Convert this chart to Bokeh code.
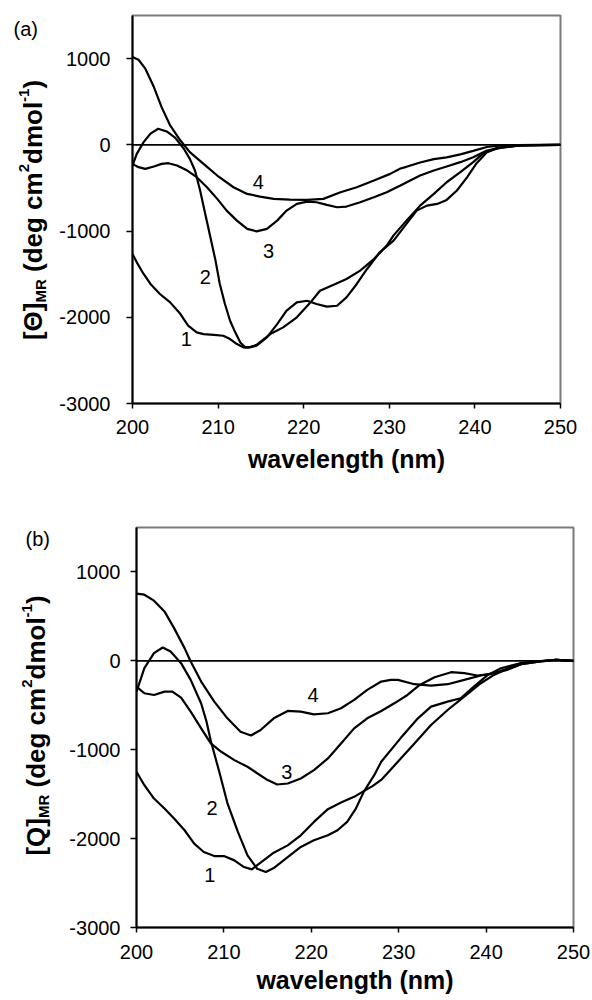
import math
from bokeh.plotting import figure
from bokeh.layouts import column, row
from bokeh.models import Span, Range1d, FixedTicker, ColumnDataSource
from bokeh.core.properties import value
from bokeh.embed import file_html
from bokeh.resources import INLINE

FONT = "Liberation Sans"

# ---------------- data: panel (a) ----------------
a_x1 = [200, 200.5, 201.3, 202.1, 203.2, 204.4, 205.6, 206.5, 207.5, 208.3, 209.5, 210.6, 211.4, 212.2,
        213.0, 213.6, 214.5, 215.7, 216.9, 218.0, 219.2, 220.4, 221.5, 222.7, 223.9, 225.0, 226.2, 227.4,
        228.9, 230.5, 232.0, 233.2, 234.4, 235.6, 236.7, 237.9, 239.1, 240.2, 241.4, 243.0, 245.3, 247.5, 250]
a_y1 = [-1266, -1363, -1498, -1614, -1730, -1827, -1963, -2098, -2175, -2195, -2203, -2214, -2253, -2311,
        -2350, -2352, -2330, -2234, -2079, -1924, -1827, -1808, -1846, -1877, -1866, -1769, -1614, -1440,
        -1246, -1111, -917, -763, -705, -685, -639, -530, -375, -213, -85, -27, -8, -3, 0]

a_x2 = [200, 200.5, 201.3, 202.1, 203.0, 204.0, 205.0, 206.0, 206.7, 207.3, 207.9, 208.5, 209.1, 209.7,
        210.2, 210.8, 211.4, 212.0, 212.6, 213.2, 213.8, 214.5, 216.1, 217.6, 219.2, 220.8, 221.9, 223.5,
        225.0, 226.6, 228.2, 229.7, 230.5, 232.0, 233.6, 235.2, 236.7, 238.3, 239.8, 241.0, 242.6, 245.3,
        247.5, 250]
a_y2 = [-240, -105, 31, 130, 186, 155, 80, -46, -163, -298, -530, -801, -1072, -1343,
        -1614, -1846, -2040, -2175, -2292, -2350, -2342, -2320, -2195, -2117, -2001, -1827, -1692, -1622,
        -1556, -1459, -1324, -1169, -1050, -879, -705, -569, -434, -317, -201, -97, -35, -8,
        -3, 0]

a_x3 = [200, 200.7, 201.5, 202.5, 203.4, 204.2, 205.2, 206.4, 207.5, 208.7, 209.9, 211.0, 212.2, 213.4,
        214.5, 215.7, 216.9, 218.0, 219.2, 220.4, 221.5, 222.7, 223.9, 225.0, 226.6, 228.2, 229.7, 231.3,
        232.5, 233.6, 235.2, 236.7, 238.3, 239.8, 241.4, 243.0, 245.3, 247.5, 250]
a_y3 = [-221, -259, -279, -252, -221, -213, -240, -298, -375, -492, -627, -763, -879, -975,
        -1003, -975, -879, -763, -685, -658, -666, -697, -724, -716, -666, -608, -550, -472,
        -410, -356, -298, -252, -201, -143, -66, -35, -8, -3, 0]

a_x4 = [200, 200.7, 201.5, 202.5, 203.4, 204.4, 205.6, 206.7, 208.3, 209.9, 211.8, 213.4, 214.9, 216.5,
        218.4, 220.4, 222.3, 224.3, 226.2, 228.2, 230.1, 231.3, 232.0, 233.6, 235.2, 236.7, 238.3, 239.8,
        241.4, 243.0, 245.0, 247.5, 250]
a_y4 = [1018, 987, 883, 670, 437, 225, 50, -85, -221, -356, -492, -569, -600, -627,
        -635, -639, -627, -550, -492, -414, -337, -275, -255, -205, -165, -145, -110, -70,
        -25, -8, -3, -1, 0]

# ---------------- data: panel (b) ----------------
b_x1 = [200, 200.9, 202.0, 203.2, 204.3, 205.5, 206.6, 207.7, 208.9, 210.0, 211.2, 212.3, 213.2, 214.2,
        215.7, 217.3, 218.8, 220.3, 221.9, 223.4, 224.9, 226.0, 227.0, 228.0, 229.9, 231.8, 233.7, 235.6,
        237.5, 239.4, 240.9, 242.4, 244.0, 246.0, 248.0, 250]
b_y1 = [-1248, -1399, -1549, -1662, -1775, -1906, -2057, -2151, -2196, -2196, -2245, -2320, -2346, -2271,
        -2158, -2076, -1963, -1812, -1669, -1594, -1530, -1466, -1410, -1340, -1136, -929, -722, -553,
        -402, -252, -158, -90, -38, -10, 10, 0]

b_x2 = [200, 200.9, 202.0, 203.0, 203.9, 205.1, 206.2, 207.4, 208.0, 208.5, 209.5, 210.4, 211.6, 212.7,
        213.8, 214.8, 215.7, 217.3, 218.8, 220.3, 221.9, 223.0, 224.1, 225.1, 226.0, 227.2, 228.0, 230.2,
        232.2, 233.7, 235.6, 237.1, 238.6, 240.2, 241.7, 244.0, 246.0, 248.0, 250]
b_y2 = [-346, -83, 86, 150, 105, -26, -214, -480, -680, -900, -1260, -1600, -1925, -2188,
        -2339, -2376, -2331, -2207, -2094, -2019, -1963, -1906, -1812, -1662, -1474, -1286, -1136, -872,
        -647, -515, -459, -421, -290, -158, -83, -26, -5, 12, 0]

b_x3 = [200, 200.9, 202.0, 203.2, 204.1, 205.1, 206.2, 207.4, 208.5, 209.7, 211.2, 212.7, 214.2, 215.0,
        216.1, 217.3, 218.8, 220.3, 221.9, 223.4, 224.9, 226.4, 228.0, 229.5, 231.0, 232.3, 234.1, 236.0,
        237.5, 239.0, 240.5, 242.4, 244.0, 246.0, 248.0, 250]
b_y3 = [-290, -365, -384, -346, -346, -414, -572, -760, -929, -1023, -1117, -1192, -1290, -1342,
        -1391, -1380, -1324, -1230, -1098, -929, -760, -647, -565, -478, -384, -278, -184, -128,
        -139, -165, -150, -102, -38, -8, 12, 0]

b_x4 = [200, 200.9, 202.0, 203.2, 204.3, 205.5, 206.2, 207.4, 208.9, 210.4, 211.9, 213.1, 214.2, 215.7,
        217.3, 218.8, 220.3, 221.9, 223.4, 224.9, 226.4, 228.0, 229.1, 229.9, 231.8, 233.7, 235.6, 237.5,
        239.4, 240.9, 242.4, 244.0, 246.0, 248.0, 250]
b_y4 = [756, 744, 677, 556, 368, 143, -8, -233, -459, -647, -797, -840, -778, -647,
        -564, -572, -602, -590, -534, -440, -327, -233, -214, -214, -263, -278, -263, -214,
        -165, -139, -90, -26, -5, 12, 0]

curve_names = ["1", "2", "3", "4"]
a_label_x = [206.3, 208.5, 215.9, 214.7]
a_label_y = [-2250, -1538, -1237, -434]
b_label_x = [208.4, 208.65, 217.2, 220.2]
b_label_y = [-2407, -1657, -1245, -382]

x_ticks = [200, 210, 220, 230, 240, 250]
y_ticks = [-3000, -2000, -1000, 0, 1000]
x_title = "wavelength (nm)"

# Arial/Liberation Sans Bold advance widths (em)
BOLD_W = {'[': .333, ']': .333, '\u0398': .778, 'Q': .778, 'M': .833, 'R': .722, ' ': .278,
          '(': .333, ')': .333, 'd': .611, 'e': .556, 'g': .611, 'c': .556, 'm': .889,
          'o': .611, 'l': .278, '2': .556, '-': .333, '1': .556}

SIDE_W = 52


def tw(s, size):
    return sum(BOLD_W.get(c, 0.6) for c in s) * size


def make_side(H, mbt, mbb, sym, tag, f_main, f_small, base_x, center_y, tag_x, tag_y):
    # data coordinates of this strip equal page pixels (y measured upward from the strip bottom)
    s = figure(width=SIDE_W, height=H, output_backend="svg", toolbar_location=None, title=None,
               x_range=Range1d(0, SIDE_W), y_range=Range1d(mbb, H - mbt),
               x_axis_type=None, y_axis_type=None,
               min_border_left=0, min_border_right=0, min_border_top=mbt, min_border_bottom=mbb)
    s.outline_line_color = None
    s.grid.visible = False
    s.text([tag_x], [H - tag_y], text=[tag], text_font=value(FONT), text_font_size="20px",
           text_align="left", text_baseline="middle", text_color="black")
    # (text, size, shift across the line, gap before the piece)
    sup = -0.42 * f_main
    pieces = [("[" + sym + "]", f_main, 0, 0), ("MR", f_small, 5, 0),
              ("(deg cm", f_main, 0, 0.278 * f_main), ("2", f_small, sup, 0),
              ("dmol", f_main, 0, 0), ("-1", f_small, sup, 0), (")", f_main, 0, 0)]
    total = sum(tw(t, sz) + g for t, sz, _, g in pieces)
    py = center_y + total / 2
    for t, sz, dx, gap in pieces:
        py -= gap
        s.text([base_x + dx - 0.21 * sz], [H - py], text=[t], angle=math.pi / 2,
               text_font=value(FONT), text_font_style="bold", text_font_size=f"{sz}px",
               text_align="left", text_baseline="alphabetic", text_color="black")
        py -= tw(t, sz)
    return s


def make_main(xs, ys, lab_x, lab_y, H, mbl, mbr, mbt, mbb, tick_std, als, ytl_std):
    p = figure(width=592 - SIDE_W, height=H, output_backend="svg", toolbar_location=None,
               title=None, x_range=Range1d(200, 250), y_range=Range1d(-3000, 1500),
               min_border_left=mbl, min_border_right=mbr, min_border_top=mbt,
               min_border_bottom=mbb)
    p.grid.visible = False
    p.outline_line_color = "#7a7a7a"
    p.outline_line_width = 2
    for ax in (p.xaxis[0], p.yaxis[0]):
        ax.axis_line_color = "black"
        ax.axis_line_width = 2
        ax.major_tick_line_color = "black"
        ax.major_tick_line_width = 1.5
        ax.major_tick_in = 0
        ax.minor_tick_line_color = None
        ax.major_label_text_font = FONT
        ax.major_label_text_font_size = "20px"
        ax.major_label_text_color = "black"
    p.xaxis.ticker = FixedTicker(ticks=x_ticks)
    p.yaxis.ticker = FixedTicker(ticks=y_ticks)
    p.yaxis.major_label_overrides = {v: str(v) for v in y_ticks}
    p.xaxis.major_tick_out = 5
    p.yaxis.major_tick_out = 6
    p.xaxis.major_label_standoff = tick_std
    p.yaxis.major_label_standoff = ytl_std
    p.xaxis.axis_label = x_title
    p.xaxis.axis_label_text_font = FONT
    p.xaxis.axis_label_text_font_style = "bold"
    p.xaxis.axis_label_text_font_size = "25px"
    p.xaxis.axis_label_text_color = "black"
    p.xaxis.axis_label_standoff = als

    p.add_layout(Span(location=0, dimension="width", line_color="black", line_width=1.8))

    for x, y in zip(xs, ys):
        p.line(x, y, line_color="black", line_width=2.2)

    src = ColumnDataSource(dict(x=lab_x, y=lab_y, t=curve_names))
    p.text("x", "y", text="t", source=src, text_font=value(FONT), text_font_size="20px",
           text_align="center", text_baseline="middle", text_color="black")
    return p


H_A, H_B = 490, 510
MBT_A, MBB_A = 15, 87
MBT_B, MBB_B = 37, 73

side_a = make_side(H_A, MBT_A, MBB_A, "\u0398", "(a)", 26, 15, 38, 209.5, 13, 28.5)
main_a = make_main([a_x1, a_x2, a_x3, a_x4], [a_y1, a_y2, a_y3, a_y4], a_label_x, a_label_y,
                   H_A, 132 - SIDE_W, 32, MBT_A, MBB_A, 11, 8, 16)
side_b = make_side(H_B, MBT_B, MBB_B, "Q", "(b)", 26, 15, 41, 725 - H_A, 25, 538.5 - H_A)
main_b = make_main([b_x1, b_x2, b_x3, b_x4], [b_y1, b_y2, b_y3, b_y4], b_label_x, b_label_y,
                   H_B, 136 - SIDE_W, 19, MBT_B, MBB_B, 12, 4, 10)

layout = column(row(side_a, main_a, spacing=0), row(side_b, main_b, spacing=0), spacing=0)
open("out.html", "w").write(file_html(layout, INLINE))
